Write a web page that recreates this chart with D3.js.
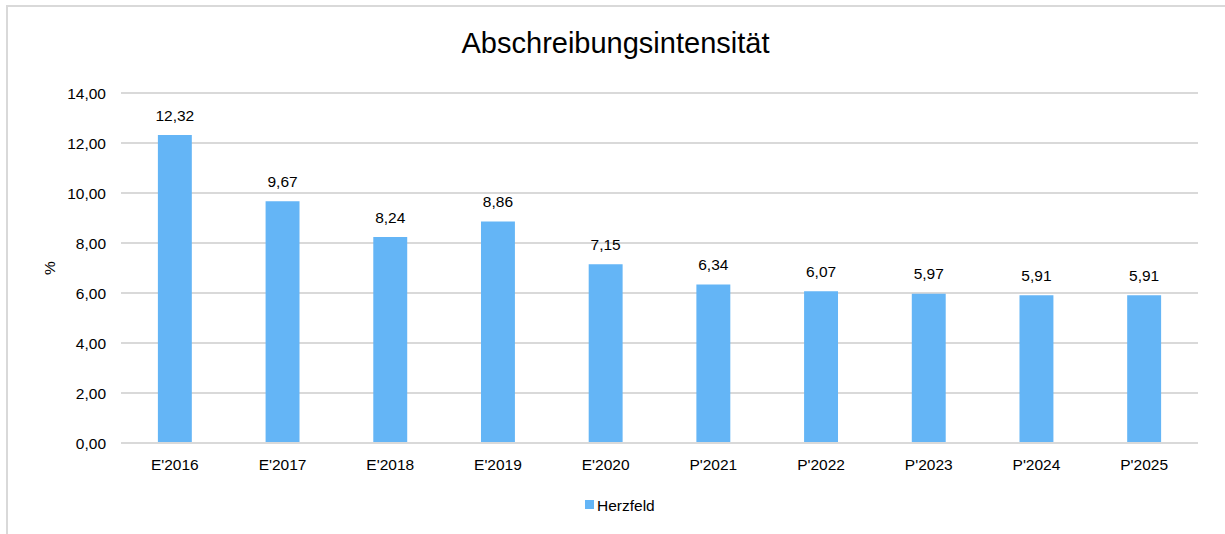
<!DOCTYPE html>
<html>
<head>
<meta charset="utf-8">
<script src="https://cdn.jsdelivr.net/npm/d3@7"></script>
<style>
body { margin: 0; background: #fff; }
text { font-family: "Liberation Sans", Arial, sans-serif; fill: #000; }
</style>
</head>
<body>
<div id="chart"></div>
<script>
var categories = ["E'2016", "E'2017", "E'2018", "E'2019", "E'2020", "P'2021", "P'2022", "P'2023", "P'2024", "P'2025"];
var values = [12.32, 9.67, 8.24, 8.86, 7.15, 6.34, 6.07, 5.97, 5.91, 5.91];
var yTicks = [0, 2, 4, 6, 8, 10, 12, 14];
var seriesName = "Herzfeld";

var width = 1225, height = 534;
var barColor = "#64b5f6";

var svg = d3.select("#chart").append("svg")
    .attr("width", width)
    .attr("height", height);

// outer frame (only top + left visible)
svg.append("path")
    .attr("d", "M7," + height + "V6H" + width)
    .attr("fill", "none")
    .attr("stroke", "#d9d9d9")
    .attr("stroke-width", 2);

var x = d3.scaleBand().domain(categories).range([121, 1198]).paddingInner(0.685).paddingOuter(0.3425);
var y = d3.scaleLinear().domain([0, 14]).range([443, 93]);

svg.append("text")
    .attr("x", 615.5).attr("y", 53)
    .attr("text-anchor", "middle")
    .style("font-size", "29px")
    .text("Abschreibungsintensität");

var fmt = function(v) { return d3.format(".2f")(v).replace(".", ","); };

// gridlines
svg.append("g").selectAll("line")
    .data(yTicks)
    .enter().append("line")
    .attr("x1", 121).attr("x2", 1198)
    .attr("y1", function(d) { return y(d); })
    .attr("y2", function(d) { return y(d); })
    .attr("stroke", "#d9d9d9")
    .attr("stroke-width", 2);

svg.append("g").selectAll("text")
    .data(yTicks)
    .enter().append("text")
    .attr("x", 106)
    .attr("y", function(d) { return y(d) + 5.5; })
    .attr("text-anchor", "end")
    .style("font-size", "15.5px")
    .text(fmt);

svg.append("text")
    .attr("transform", "translate(55,268) rotate(-90)")
    .attr("text-anchor", "middle")
    .style("font-size", "15.5px")
    .text("%");

// bars
svg.append("g").selectAll("rect")
    .data(values)
    .enter().append("rect")
    .attr("x", function(d, i) { return x(categories[i]); })
    .attr("y", function(d) { return y(d); })
    .attr("width", x.bandwidth())
    .attr("height", function(d) { return y(0) - y(d); })
    .attr("fill", barColor);

// baseline on top of bars
svg.append("line")
    .attr("x1", 121).attr("x2", 1198)
    .attr("y1", y(0)).attr("y2", y(0))
    .attr("stroke", "#d9d9d9").attr("stroke-width", 2);

svg.append("g").selectAll("text")
    .data(values)
    .enter().append("text")
    .attr("x", function(d, i) { return x(categories[i]) + x.bandwidth() / 2; })
    .attr("y", function(d) { return y(d) - 14.5; })
    .attr("text-anchor", "middle")
    .style("font-size", "15.5px")
    .text(fmt);

svg.append("g").selectAll("text")
    .data(categories)
    .enter().append("text")
    .attr("x", function(d) { return x(d) + x.bandwidth() / 2; })
    .attr("y", 469.5)
    .attr("text-anchor", "middle")
    .style("font-size", "15.5px")
    .text(function(d) { return d; });

// legend
svg.append("rect")
    .attr("x", 585).attr("y", 500)
    .attr("width", 9).attr("height", 9)
    .attr("fill", barColor);
svg.append("text")
    .attr("x", 597).attr("y", 510.5)
    .style("font-size", "15.5px")
    .text(seriesName);
</script>
</body>
</html>
